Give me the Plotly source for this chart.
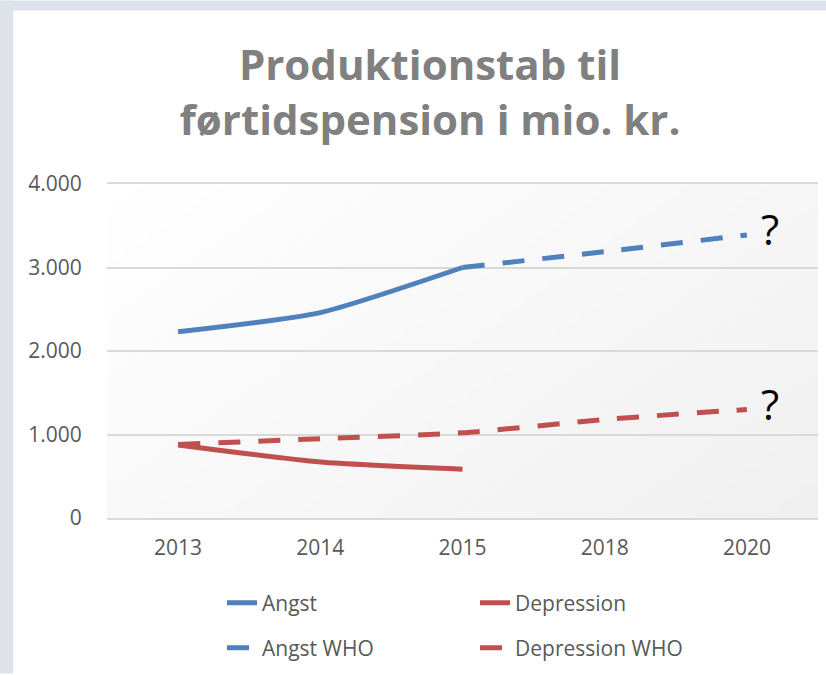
import base64, struct, zlib
import plotly.graph_objects as go

# ---- data ----
categories = ["2013", "2014", "2015", "2018", "2020"]
angst_x = ["2013", "2014", "2015"]
angst = [2230, 2460, 3000]
depression_x = ["2013", "2014", "2015"]
depression = [875, 670, 585]
angst_who_x = ["2015", "2018", "2020"]
angst_who = [3000, 3190, 3390]
depression_who_x = ["2013", "2014", "2015", "2018", "2020"]
depression_who = [880, 950, 1020, 1180, 1300]
y_ticks = [0, 1000, 2000, 3000, 4000]

BLUE = "#4f81bd"
RED = "#c0504d"
FONT = "Open Sans"

W, H = 826, 675
ML, MR, MT, MB = 107, 8, 184, 156
PW = W - ML - MR
PH = H - MT - MB
BOTTOM = H - MB  # pixel row of y=0


def gradient_png(w=64, h=64, lo=0xF0):
    def chunk(tag, data):
        return (struct.pack(">I", len(data)) + tag + data +
                struct.pack(">I", zlib.crc32(tag + data) & 0xFFFFFFFF))
    raw = b""
    for j in range(h):
        row = b"\x00"
        for i in range(w):
            t = (i / (w - 1) * 0.6 + j / (h - 1) * 0.4)
            v = round(255 - t * (255 - lo))
            row += bytes([v, v, v])
        raw += row
    png = (b"\x89PNG\r\n\x1a\n" +
           chunk(b"IHDR", struct.pack(">IIBBBBB", w, h, 8, 2, 0, 0, 0)) +
           chunk(b"IDAT", zlib.compress(raw)) + chunk(b"IEND", b""))
    return "data:image/png;base64," + base64.b64encode(png).decode()


line_common = dict(width=5, shape="spline", smoothing=0.6)
fig = go.Figure()
fig.add_trace(go.Scatter(x=angst_x, y=angst, name="Angst", mode="lines",
                         line=dict(color=BLUE, **line_common), legend="legend"))
fig.add_trace(go.Scatter(x=depression_x, y=depression, name="Depression", mode="lines",
                         line=dict(color=RED, **line_common), legend="legend"))
fig.add_trace(go.Scatter(x=angst_who_x, y=angst_who, name="Angst WHO", mode="lines",
                         line=dict(color=BLUE, dash="22px,18px", **line_common),
                         legend="legend2"))
fig.add_trace(go.Scatter(x=depression_who_x, y=depression_who, name="Depression WHO",
                         mode="lines",
                         line=dict(color=RED, dash="22px,18px", **line_common),
                         legend="legend2"))

for xs, ys in [(angst_who_x, angst_who), (depression_who_x, depression_who)]:
    fig.add_annotation(x=categories.index(xs[-1]), y=ys[-1], text="?", showarrow=False,
                       xanchor="center", yanchor="middle", xshift=23, yshift=6,
                       font=dict(family=FONT, size=42, color="#000000"))

leg_x = (222 - ML) / PW
common_leg = dict(orientation="h", xanchor="left", x=leg_x, yanchor="middle",
                  entrywidth=208, entrywidthmode="pixels",
                  font=dict(family=FONT, size=21, color="#595959"),
                  bgcolor="rgba(0,0,0,0)")

fig.update_layout(
    width=W, height=H,
    margin=dict(l=ML, r=MR, t=MT, b=MB, pad=0),
    paper_bgcolor="#ffffff",
    plot_bgcolor="#ffffff",
    separators=",.",
    title=dict(text="Produktionstab til<br>førtidspension i mio. kr.",
               x=430 / W, xref="container", xanchor="center",
               y=1 - 80 / H, yref="container", yanchor="top",
               font=dict(family=FONT, size=42, color="#808080", weight="bold")),
    xaxis=dict(type="category", categoryorder="array", categoryarray=categories,
               range=[-0.5, len(categories) - 0.5], showgrid=False, zeroline=False,
               showline=True, mirror=True, linecolor="#d9d9d9", linewidth=1.5,
               ticks="outside", ticklen=10, tickcolor="rgba(0,0,0,0)",
               tickfont=dict(family=FONT, size=21, color="#595959")),
    yaxis=dict(range=[0, 4000], tickvals=y_ticks, tickformat=",d",
               showgrid=True, gridcolor="#d9d9d9", gridwidth=1.5, zeroline=False,
               showline=False, ticks="outside", ticklen=20, tickcolor="rgba(0,0,0,0)",
               tickfont=dict(family=FONT, size=21, color="#595959")),
    legend=dict(y=(BOTTOM - 603) / PH, **common_leg),
    legend2=dict(y=(BOTTOM - 648) / PH, **common_leg),
    images=[dict(source=gradient_png(), xref="x domain", yref="y domain",
                 x=0, y=1, sizex=1, sizey=1, xanchor="left", yanchor="top",
                 sizing="stretch", layer="below")],
    shapes=[
        dict(type="rect", xref="paper", yref="paper", layer="below",
             x0=-ML / PW, x1=(13 - ML) / PW, y0=-MB / PH, y1=(H - MB) / PH,
             fillcolor="#dee2ea", line=dict(width=0)),
        dict(type="rect", xref="paper", yref="paper", layer="below",
             x0=-ML / PW, x1=(W - ML) / PW, y0=(H - MB - 10) / PH, y1=(H - MB) / PH,
             fillcolor="#dee2ea", line=dict(width=0)),
    ],
    showlegend=True,
)

fig.write_html("out.html", config={"displayModeBar": False},
               post_script="document.body.style.margin='0';document.body.style.overflow='hidden';")
